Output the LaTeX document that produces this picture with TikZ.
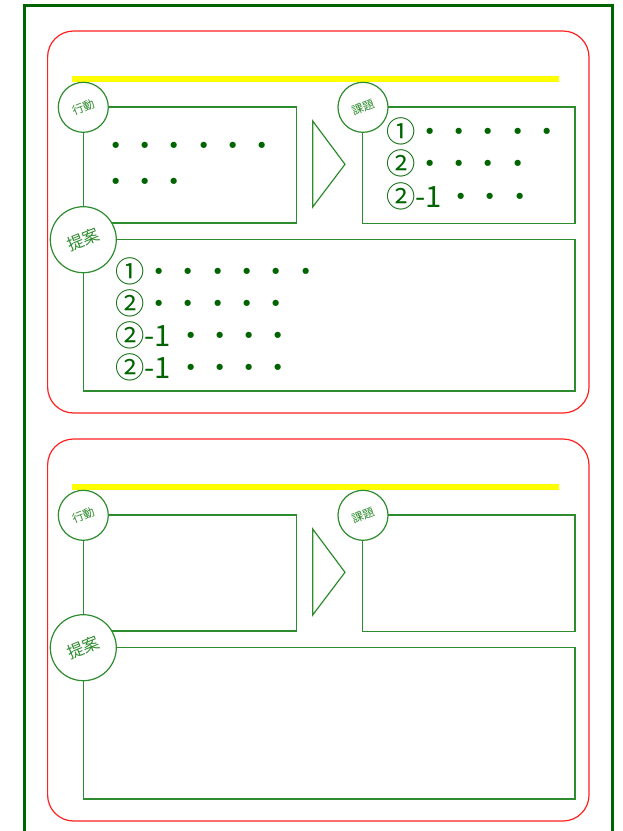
\documentclass[tikz,border=0pt]{standalone}
\usepackage{fontspec}
\newfontfamily\jp{Noto Sans CJK JP}
\definecolor{framegreen}{HTML}{006400}
\definecolor{linegreen}{HTML}{2E8B2E}
\definecolor{dotgreen}{HTML}{006400}
\definecolor{panelred}{HTML}{FF2020}
\definecolor{hiyellow}{HTML}{FFFF00}
\tikzset{
  framest/.style={draw=framegreen, line width=3.3pt},
  panelst/.style={draw=panelred, line width=1.2pt, rounded corners=26pt},
  yellowst/.style={draw=hiyellow, line width=5.8pt},
  boxst/.style={draw=linegreen, line width=1.2pt, rectangle, inner sep=0pt, outer sep=0pt, anchor=north west},
  tagst/.style={draw=linegreen, line width=1.2pt, circle, fill=white, inner sep=0pt, outer sep=0pt, text=linegreen},
  arrowst/.style={draw=linegreen, line width=1.2pt, line join=miter},
  rowst/.style={anchor=base west, inner sep=0pt, outer sep=0pt, text=dotgreen, font=\jp\fontsize{29.3}{32}\selectfont},
}
\begin{document}
\begin{tikzpicture}[x=1pt,y=-1pt]
\useasboundingbox (0,0) rectangle (623,831);
\draw[framest] (24.3,5.7) rectangle (612.5,832.6);
\foreach \p/\dy in {1/0,2/408}{
  \begin{scope}[yshift=-\dy pt]
    \draw[panelst] (47.6,31) rectangle (589,413);
    \draw[yellowst] (72,78.8) -- (558.5,78.8);
    \node[boxst, minimum width=213pt, minimum height=116pt] (act\p) at (83.3,107) {};
    \node[boxst, minimum width=212.5pt, minimum height=116.5pt] (iss\p) at (362.5,107) {};
    \node[boxst, minimum width=491.7pt, minimum height=151.5pt] (prop\p) at (83.3,239.5) {};
    \draw[arrowst] (312.7,121) coordinate (ta\p) -- (345,164.3) coordinate (tb\p) -- (312.7,207) coordinate (tc\p) -- cycle;
    \node[tagst, minimum size=50pt, rotate=22, font=\jp\fontsize{11.5}{12}\selectfont] (actc\p) at (83.3,107.3) {行動};
    \node[tagst, minimum size=50pt, rotate=22, font=\jp\fontsize{11.5}{12}\selectfont] (issc\p) at (363,107.3) {課題};
    \node[tagst, minimum size=66pt, rotate=22, font=\jp\fontsize{16.5}{17}\selectfont] (propc\p) at (83.3,239.7) {提案};
  \end{scope}
}
% panel 1 texts
\node[rowst] (a1) at (101.4,156.4) {・・・・・・};
\node[rowst] (a2) at (101.4,192.4) {・・・};
\node[rowst] (i1l) at (386,142.8) {①};
\node[rowst] (i1d) at (415.3,142.8) {・・・・・};
\node[rowst] (i2l) at (386,174.8) {②};
\node[rowst] (i2d) at (415.3,174.8) {・・・・};
\node[rowst] (i3l) at (386,207.1) {②-1};
\node[rowst] (i3d) at (446.4,207.1) {・・・};
\node[rowst] (p1l) at (115.3,282.1) {①};
\node[rowst] (p1d) at (144.6,282.1) {・・・・・・};
\node[rowst] (p2l) at (115.3,314.4) {②};
\node[rowst] (p2d) at (144.6,314.4) {・・・・・};
\node[rowst] (p3l) at (115.3,346.1) {②-1};
\node[rowst] (p3d) at (176,346.1) {・・・・};
\node[rowst] (p4l) at (115.3,378.1) {②-1};
\node[rowst] (p4d) at (176,378.1) {・・・・};
\end{tikzpicture}
\end{document}
